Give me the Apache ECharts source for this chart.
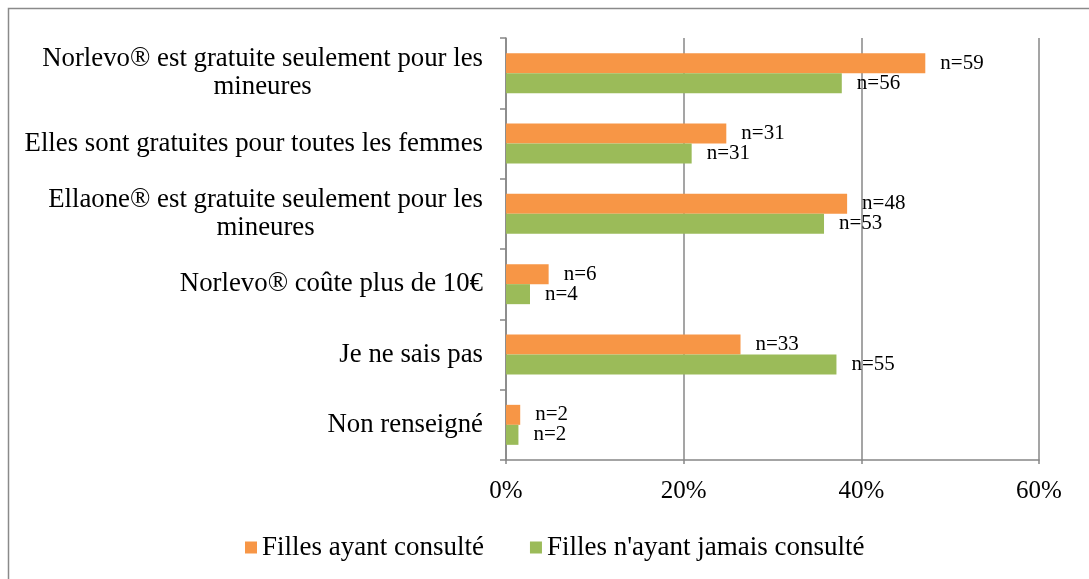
<!DOCTYPE html>
<html>
<head>
<meta charset="utf-8">
<script src="https://cdn.jsdelivr.net/npm/echarts@6/dist/echarts.min.js"></script>
<style>
html,body{margin:0;padding:0;background:#fff;}
#chart{width:1089px;height:579px;}
</style>
</head>
<body>
<div id="chart"></div>
<script>
var categories = [
  "Norlevo® est gratuite seulement pour les\nmineures",
  "Elles sont gratuites pour toutes les femmes",
  "Ellaone® est gratuite seulement pour les\nmineures",
  "Norlevo® coûte plus de 10€",
  "Je ne sais pas",
  "Non renseigné"
];
var seriesNames = ["Filles ayant consulté", "Filles n'ayant jamais consulté"];
var consultedPct = [47.2, 24.8, 38.4, 4.8, 26.4, 1.6];
var neverPct = [37.8, 20.9, 35.8, 2.7, 37.2, 1.4];
var consultedN = [59, 31, 48, 6, 33, 2];
var neverN = [56, 31, 53, 4, 55, 2];
var xTicks = [0, 20, 40, 60];

var FONT = '"Liberation Serif", "Times New Roman", serif';
var GRAY = '#878787';

var chart = echarts.init(document.getElementById('chart'), null, {renderer: 'canvas'});

function makeLabel(nArr) {
  return {
    show: true,
    position: 'right',
    distance: 15,
    fontFamily: FONT,
    fontSize: 21,
    color: '#000',
    formatter: function (p) { return 'n=' + nArr[p.dataIndex]; }
  };
}

var option = {
  backgroundColor: '#fff',
  animation: false,
  graphic: [{
    type: 'rect',
    shape: {x: 8.5, y: 8.5, width: 1100, height: 600},
    style: {fill: 'none', stroke: '#8a8a8a', lineWidth: 1.5},
    silent: true
  }],
  grid: {left: 506, right: 50, top: 38, bottom: 119, containLabel: false},
  legend: {
    data: seriesNames,
    left: 245,
    top: 534,
    padding: 0,
    itemWidth: 12,
    itemHeight: 12,
    itemGap: 46,
    icon: 'rect',
    textStyle: {fontFamily: FONT, fontSize: 27, color: '#000'}
  },
  xAxis: {
    type: 'value',
    min: xTicks[0],
    max: xTicks[xTicks.length - 1],
    interval: xTicks[1] - xTicks[0],
    axisLine: {show: true, lineStyle: {color: GRAY, width: 1.5}},
    axisTick: {show: true, length: 4, lineStyle: {color: GRAY, width: 1.5}},
    splitLine: {show: true, lineStyle: {color: GRAY, width: 1.5}},
    axisLabel: {
      formatter: '{value}%',
      fontFamily: FONT,
      fontSize: 25,
      color: '#000',
      margin: 19
    }
  },
  yAxis: {
    type: 'category',
    data: categories,
    inverse: true,
    axisLine: {show: true, lineStyle: {color: GRAY, width: 1.5}},
    axisTick: {show: true, length: 6, lineStyle: {color: GRAY, width: 1.5}},
    axisLabel: {
      margin: 23,
      align: 'right',
      fontFamily: FONT,
      fontSize: 26.8,
      color: '#000',
      formatter: function (v) {
        return v.split('\n').map(function (s) { return '{a|' + s + '}'; }).join('\n');
      },
      rich: {
        a: {align: 'center', fontFamily: FONT, fontSize: 26.8, color: '#000', lineHeight: 28}
      }
    }
  },
  series: [
    {
      name: seriesNames[0],
      type: 'bar',
      data: consultedPct,
      barWidth: 20,
      barGap: '0%',
      itemStyle: {color: '#F79646'},
      label: makeLabel(consultedN)
    },
    {
      name: seriesNames[1],
      type: 'bar',
      data: neverPct,
      barWidth: 20,
      barGap: '0%',
      itemStyle: {color: '#9BBB59'},
      label: makeLabel(neverN)
    }
  ]
};
chart.setOption(option);
</script>
</body>
</html>
